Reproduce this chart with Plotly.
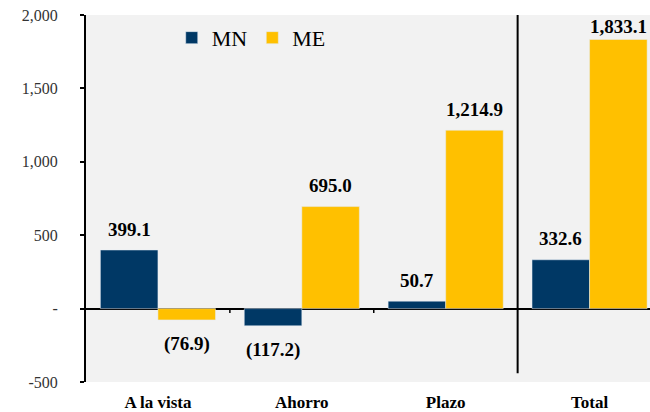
import plotly.graph_objects as go

categories = ["A la vista", "Ahorro", "Plazo", "Total"]
mn_values = [399.1, -117.2, 50.7, 332.6]
me_values = [-76.9, 695.0, 1214.9, 1833.1]
y_ticks = [-500, 0, 500, 1000, 1500, 2000]
y_tick_labels = ["-500", "-", "500", "1,000", "1,500", "2,000"]

NAVY = "#003865"
GOLD = "#FFC000"
FONT = "Liberation Serif"

Y_MIN, Y_MAX = -500, 2000
TOP, BOTTOM, H = 15, 30, 412
PX_PER_UNIT = (H - TOP - BOTTOM) / (Y_MAX - Y_MIN)
BAR_SHIFT = 0.2 * 564 / 3.92   # half a bar, in px


def fmt(v):
    s = f"{abs(v):,.1f}"
    return f"({s})" if v < 0 else s


fig = go.Figure()
fig.add_trace(go.Bar(name="MN", x=categories, y=mn_values, marker_color=NAVY))
fig.add_trace(go.Bar(name="ME", x=categories, y=me_values, marker_color=GOLD))

# value labels, kept inside the top of the chart like the original
for values, side in [(mn_values, -1), (me_values, 1)]:
    for cat, v in zip(categories, values):
        if v >= 0:
            bar_top = TOP + (Y_MAX - v) * PX_PER_UNIT
            dy = min(21, bar_top - 27)
        else:
            dy = -24
        fig.add_annotation(
            x=cat, y=v, text=fmt(v), showarrow=False,
            xshift=side * BAR_SHIFT, yshift=dy, yanchor="middle",
            font=dict(family=FONT, size=19, color="black", weight="bold"),
        )

fig.update_layout(
    width=650, height=H,
    margin=dict(l=86, r=0, t=TOP, b=BOTTOM, autoexpand=False),
    paper_bgcolor="white",
    plot_bgcolor="#F2F2F2",
    barmode="group", bargap=0.2, bargroupgap=0,
    font=dict(family=FONT, color="black"),
    legend=dict(
        orientation="h", x=0.152, y=0.995, xanchor="left", yanchor="top",
        bgcolor="rgba(0,0,0,0)", font=dict(size=22),
        itemclick=False,
    ),
    showlegend=True,
)

fig.update_xaxes(
    range=[-0.5, 3.42], showgrid=False, showline=False, ticks="",
    tickfont=dict(family=FONT, size=17, color="black", weight="bold"),
    ticklabelstandoff=8, automargin=False,
)
fig.update_yaxes(
    range=[Y_MIN, Y_MAX], tickvals=y_ticks, ticktext=y_tick_labels,
    showgrid=False, zeroline=True, zerolinecolor="black", zerolinewidth=2,
    showline=True, linecolor="black", linewidth=2,
    ticks="outside", ticklen=4, tickcolor="black", tickwidth=1.5,
    tickfont=dict(family=FONT, size=16, color="#333"),
    ticklabelstandoff=19, automargin=False,
)

# separators between categories
for xb in [0.5, 1.5]:
    fig.add_shape(type="line", x0=xb, x1=xb, y0=0, y1=-30,
                  line=dict(color="black", width=1.5))
fig.add_shape(type="line", x0=2.5, x1=2.5, y0=Y_MAX, y1=-440,
              line=dict(color="black", width=2))

fig.write_html("out.html", config={"displayModeBar": False},
               post_script="document.body.style.margin='0px';")
